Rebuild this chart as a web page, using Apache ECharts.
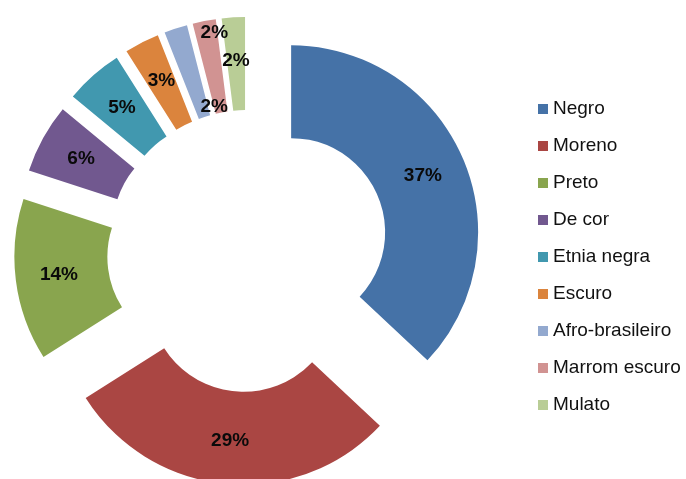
<!DOCTYPE html>
<html>
<head>
<meta charset="utf-8">
<script src="https://cdn.jsdelivr.net/npm/echarts@6/dist/echarts.min.js"></script>
<style>
  html, body { margin: 0; padding: 0; background: #fff; }
  #main { width: 686px; height: 479px; }
</style>
</head>
<body>
<div id="main"></div>
<script>
var categories = ['Negro', 'Moreno', 'Preto', 'De cor', 'Etnia negra', 'Escuro', 'Afro-brasileiro', 'Marrom escuro', 'Mulato'];
var values = [37, 29, 14, 6, 5, 3, 2, 2, 2];
var colors = ['#4572A7', '#AA4643', '#89A54E', '#71588F', '#4198AF', '#DB843D', '#93A9CF', '#D19392', '#B9CD96'];

// the two small 2% labels were moved by hand in the original
var labelNudge = {
    'Afro-brasileiro': [25, 37],
    'Marrom escuro': [2, -31]
};

var chartDom = document.getElementById('main');
var myChart = echarts.init(chartDom);
var option;

var pieData = categories.map(function (name, i) {
    return {
        name: name,
        value: values[i],
        selected: true,
        itemStyle: { color: colors[i] }
    };
});

option = {
    animation: false,
    legend: {
        orient: 'vertical',
        left: 533,
        top: 94,
        itemWidth: 10,
        itemHeight: 10,
        itemGap: 17,
        icon: 'rect',
        selectedMode: false,
        textStyle: {
            fontFamily: 'Liberation Sans, Arial, sans-serif',
            fontSize: 19,
            lineHeight: 20,
            color: '#111'
        },
        data: categories
    },
    series: [
        {
            type: 'pie',
            center: [248, 251],
            radius: [94, 187],
            startAngle: 90,
            clockwise: true,
            selectedMode: 'multiple',
            selectedOffset: 47,
            silent: true,
            emphasis: { scale: false },
            label: {
                show: true,
                position: 'inside',
                formatter: '{c}%',
                fontFamily: 'Liberation Sans, Arial, sans-serif',
                fontSize: 19,
                fontWeight: 'bold',
                color: '#0a0a0a'
            },
            labelLine: { show: false },
            labelLayout: function (params) {
                var nudge = labelNudge[categories[params.dataIndex]];
                if (!nudge) return {};
                return { dx: nudge[0], dy: nudge[1] };
            },
            data: pieData
        }
    ]
};

option && myChart.setOption(option);
</script>
</body>
</html>
